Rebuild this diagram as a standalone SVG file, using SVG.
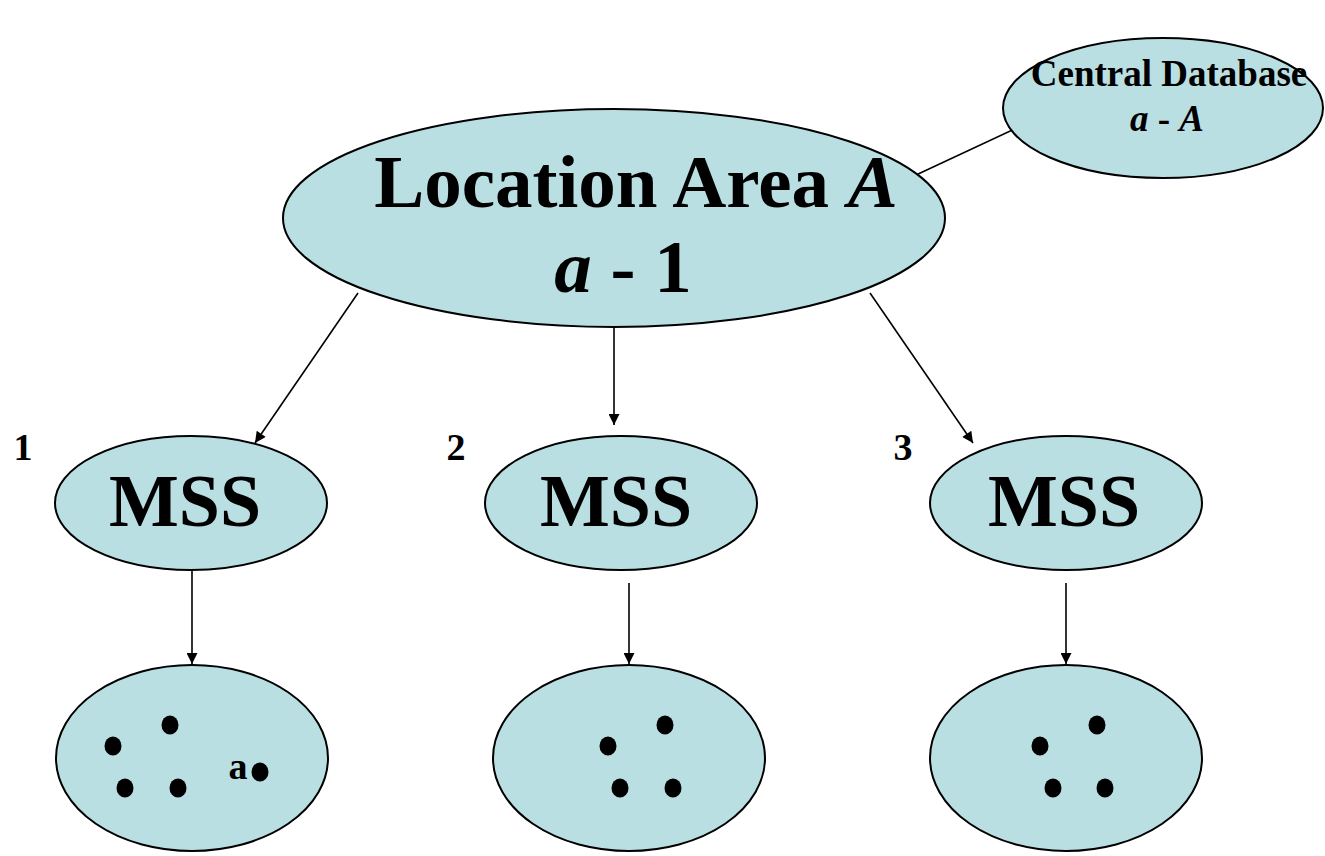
<svg xmlns="http://www.w3.org/2000/svg" width="1325" height="856" viewBox="0 0 1325 856">
  <style>
    .node { fill: #b9dfe3; stroke: #000; stroke-width: 2; }
    .t { font-family: "Liberation Serif", "Times New Roman", serif; font-weight: bold; fill: #000; }
    .i { font-style: italic; }
    .edge { stroke: #000; stroke-width: 1.6; fill: none; }
    .dot { fill: #000; }
  </style>
  <defs>
    <marker id="arrow" viewBox="0 0 10 10" refX="10" refY="5" markerWidth="13" markerHeight="11" markerUnits="userSpaceOnUse" orient="auto">
      <path d="M0,0 L10,5 L0,10 z" fill="#000"/>
    </marker>
  </defs>

  <rect width="1325" height="856" fill="#fff"/>

  <!-- connectors -->
  <g id="connectors">
    <line class="edge" x1="916" y1="175" x2="1021" y2="126"/>
    <line class="edge" x1="358" y1="293" x2="255" y2="443" marker-end="url(#arrow)"/>
    <line class="edge" x1="614" y1="327" x2="614" y2="425" marker-end="url(#arrow)"/>
    <line class="edge" x1="870" y1="293" x2="973" y2="443" marker-end="url(#arrow)"/>
    <line class="edge" x1="192" y1="570" x2="192" y2="664" marker-end="url(#arrow)"/>
    <line class="edge" x1="629" y1="583" x2="629" y2="664" marker-end="url(#arrow)"/>
    <line class="edge" x1="1066" y1="583" x2="1066" y2="664" marker-end="url(#arrow)"/>
  </g>

  <!-- central database -->
  <g id="central-db">
    <ellipse class="node" cx="1163" cy="108" rx="160" ry="70"/>
    <text class="t" x="1169" y="86" font-size="37" text-anchor="middle">Central Database</text>
    <text class="t" x="1167" y="131" font-size="37" text-anchor="middle"><tspan class="i">a</tspan> - <tspan class="i">A</tspan></text>
  </g>

  <!-- location area -->
  <g id="location-area">
    <ellipse class="node" cx="614" cy="218" rx="331" ry="109"/>
    <text class="t" x="636" y="207" font-size="75" text-anchor="middle">Location Area <tspan class="i">A</tspan></text>
    <text class="t" x="623" y="292" font-size="75" text-anchor="middle"><tspan class="i">a</tspan> - 1</text>
  </g>

  <!-- MSS nodes -->
  <g id="mss-1">
    <ellipse class="node" cx="191" cy="503" rx="136" ry="67"/>
    <text class="t" x="185" y="526" font-size="74" text-anchor="middle">MSS</text>
    <text class="t" x="23" y="460" font-size="38" text-anchor="middle">1</text>
  </g>
  <g id="mss-2">
    <ellipse class="node" cx="621" cy="503" rx="136" ry="67"/>
    <text class="t" x="616" y="526" font-size="74" text-anchor="middle">MSS</text>
    <text class="t" x="456" y="460" font-size="38" text-anchor="middle">2</text>
  </g>
  <g id="mss-3">
    <ellipse class="node" cx="1066" cy="503" rx="136" ry="67"/>
    <text class="t" x="1064" y="526" font-size="74" text-anchor="middle">MSS</text>
    <text class="t" x="903" y="460" font-size="38" text-anchor="middle">3</text>
  </g>

  <!-- cells with mobile hosts -->
  <g id="cell-1">
    <ellipse class="node" cx="192" cy="758" rx="136" ry="93"/>
    <ellipse class="dot" cx="113" cy="746" rx="8.5" ry="9.5"/>
    <ellipse class="dot" cx="170" cy="725" rx="8.5" ry="9.5"/>
    <ellipse class="dot" cx="125" cy="788" rx="8.5" ry="9.5"/>
    <ellipse class="dot" cx="178" cy="788" rx="8.5" ry="9.5"/>
    <ellipse class="dot" cx="260" cy="772" rx="8.5" ry="9.5"/>
    <text class="t" x="238" y="779" font-size="38" text-anchor="middle">a</text>
  </g>
  <g id="cell-2">
    <ellipse class="node" cx="629" cy="758" rx="136" ry="93"/>
    <ellipse class="dot" cx="608" cy="746" rx="8.5" ry="9.5"/>
    <ellipse class="dot" cx="665" cy="725" rx="8.5" ry="9.5"/>
    <ellipse class="dot" cx="620" cy="788" rx="8.5" ry="9.5"/>
    <ellipse class="dot" cx="673" cy="788" rx="8.5" ry="9.5"/>
  </g>
  <g id="cell-3">
    <ellipse class="node" cx="1066" cy="758" rx="136" ry="93"/>
    <ellipse class="dot" cx="1040" cy="746" rx="8.5" ry="9.5"/>
    <ellipse class="dot" cx="1097" cy="725" rx="8.5" ry="9.5"/>
    <ellipse class="dot" cx="1053" cy="788" rx="8.5" ry="9.5"/>
    <ellipse class="dot" cx="1105" cy="788" rx="8.5" ry="9.5"/>
  </g>
</svg>
